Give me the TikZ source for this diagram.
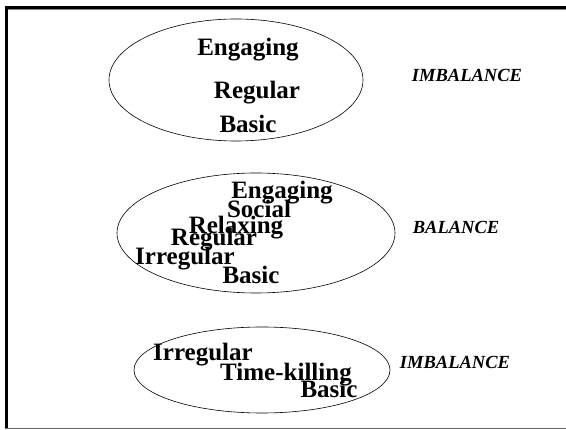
\documentclass[tikz,border=0pt]{standalone}
\usepackage{fontspec}
\setmainfont{Liberation Serif}
\begin{document}
\begin{tikzpicture}[x=1pt,y=-1pt,
  word/.style={font=\fontsize{25}{25}\selectfont\bfseries, inner sep=0pt, anchor=base},
  state/.style={font=\fontsize{18.5}{18.5}\selectfont\bfseries\itshape, inner sep=0pt, anchor=base},
  oval/.style={draw, line width=0.6pt}]
\useasboundingbox (0,0) rectangle (566,430);
% frame
\draw[line width=2.2pt] (6.5,428) -- (6.5,7.5) -- (566,7.5);
\draw[gray, line width=0.8pt] (7.6,9.6) -- (566,9.6);
\draw[gray!80!black, line width=1.2pt] (5.4,428.6) -- (566,428.6);

% first group
\draw[oval] (236,80) ellipse [x radius=127, y radius=61];
\node[word] (e1) at (248,56) {Engaging};
\node[word] (r1) at (257,99) {Regular};
\node[word] (b1) at (248,133) {Basic};
\node[state] (s1) at (467,82) {IMBALANCE};

% second group
\draw[oval] (256,233) ellipse [x radius=139, y radius=60];
\node[word] (e2) at (282,199) {Engaging};
\node[word] (so2) at (259,218) {Social};
\node[word] (re2) at (236,234) {Relaxing};
\node[word] (r2) at (214,246) {Regular};
\node[word] (i2) at (185,265) {Irregular};
\node[word] (b2) at (251,284) {Basic};
\node[state] (s2) at (456,234) {BALANCE};

% third group
\draw[oval] (262,370) ellipse [x radius=128, y radius=43];
\node[word] (i3) at (203,361) {Irregular};
\node[word] (t3) at (286,381) {Time-killing};
\node[word] (b3) at (329,398) {Basic};
\node[state] (s3) at (455,369) {IMBALANCE};
\end{tikzpicture}
\end{document}
